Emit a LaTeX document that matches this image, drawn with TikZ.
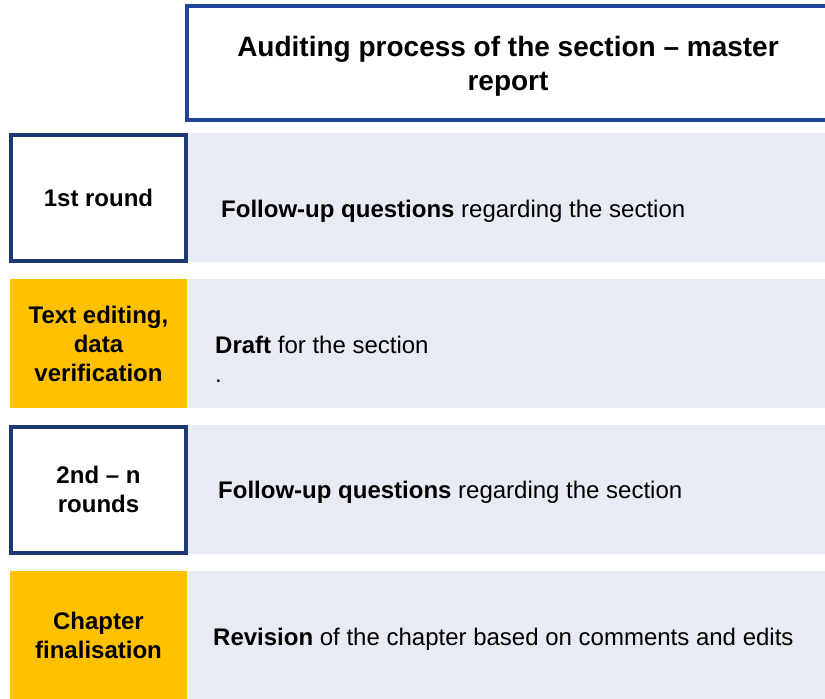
\documentclass[tikz,border=0pt]{standalone}
\usepackage{fontspec}
\setmainfont{Liberation Sans}
\usetikzlibrary{positioning}
\definecolor{headblue}{RGB}{33,68,152}
\definecolor{rowblue}{RGB}{30,56,116}
\definecolor{stepyellow}{RGB}{255,192,0}
\definecolor{bandgray}{RGB}{232,235,243}

\begin{document}
\begin{tikzpicture}[x=1pt,y=-1pt]
  \tikzstyle{band}=[rectangle, fill=bandgray, minimum width=640pt, minimum height=129pt, inner sep=0pt]
  \tikzstyle{roundbox}=[rectangle, draw=rowblue, line width=4pt, fill=white, minimum width=175pt,
minimum height=126pt, align=center, font=\fontsize{24}{29}\selectfont\bfseries]
  \tikzstyle{workbox}=[rectangle, fill=stepyellow, minimum width=177pt, minimum height=129pt,
align=center, font=\fontsize{24}{29}\selectfont\bfseries]
  \tikzstyle{bandtext}=[anchor=base west, inner sep=0pt, align=left, font=\fontsize{24}{29}\selectfont]
  \useasboundingbox (0,0) rectangle (825,699);
  \clip (0,0) rectangle (825,699);
  % header
  \node[draw=headblue, line width=4pt, minimum width=700pt, minimum height=114pt, anchor=north west] (H) at (185,4) {};
  \node[font=\fontsize{28}{34}\selectfont\bfseries, align=center] (H_text) at (508,66)
    {Auditing process of the section \textendash{} master\\report};
  % bands
  \node[band] (B_1) at (508,197.5) {};
  \node[band] (B_2) at (507,343.5) {};
  \node[band] (B_3) at (508,489.5) {};
  \node[band] (B_4) at (507,635) {};
  % stages
  \node[roundbox] (S_1) at (98.5,198) {1st round};
  \node[workbox] (S_2) at (98.5,343.5) {Text editing,\\data\\verification};
  \node[roundbox] (S_3) at (98.5,489.5) {2nd \textendash{} n\\rounds};
  \node[workbox] (S_4) at (98.5,635) {Chapter\\finalisation};
  % texts in the bands
  \node[bandtext] (T_1) at (221,217) {\textbf{Follow-up questions} regarding the section};
  \node[bandtext] (T_2) at (215,382) {\textbf{Draft} for the section\\.};
  \node[bandtext] (T_3) at (218,498) {\textbf{Follow-up questions} regarding the section};
  \node[bandtext] (T_4) at (213,645) {\textbf{Revision} of the chapter based on comments and edits};
\end{tikzpicture}
\end{document}
